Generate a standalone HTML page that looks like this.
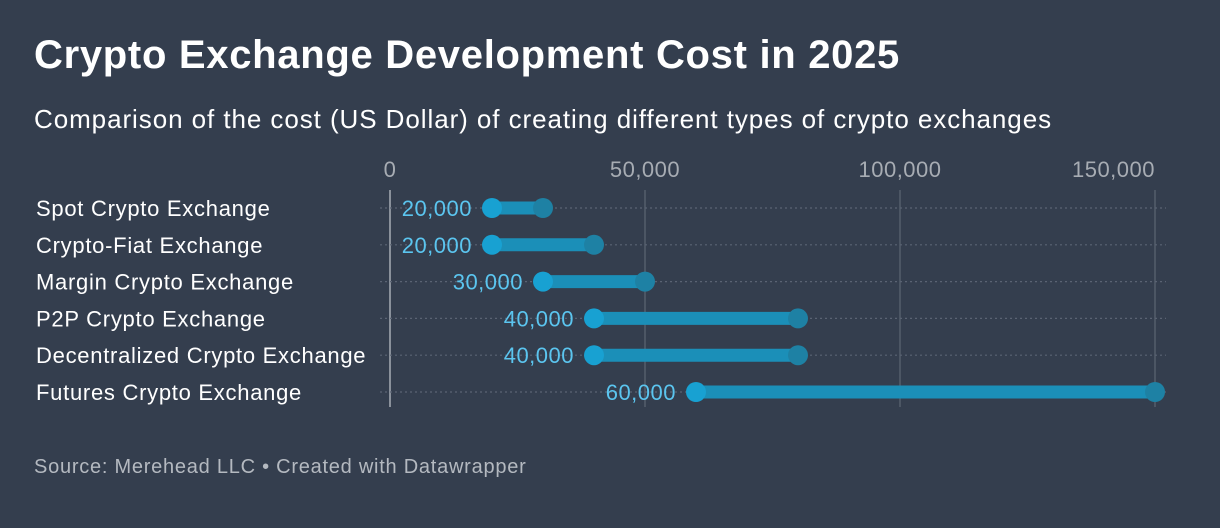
<!DOCTYPE html>
<html><head><meta charset="utf-8"><style>
body{margin:0;width:1220px;height:528px;background:#343e4e;font-family:"Liberation Sans",sans-serif;overflow:hidden}
#t{position:absolute;left:34px;top:33px;color:#fff;font-size:40px;font-weight:bold;letter-spacing:0.7px}
#s{position:absolute;left:34px;top:104px;color:#fff;font-size:26px;letter-spacing:0.93px}
#f{position:absolute;left:34px;top:456px;color:#b4b9c0;font-size:20px;letter-spacing:0.75px}
</style></head><body>
<div id="t">Crypto Exchange Development Cost in 2025</div>
<div id="s">Comparison of the cost (US Dollar) of creating different types of crypto exchanges</div>
<svg id="c" width="1220" height="528" style="position:absolute;left:0;top:0"></svg>
<div id="f">Source: Merehead LLC • Created with Datawrapper</div>
<script>
const categories=["Spot Crypto Exchange","Crypto-Fiat Exchange","Margin Crypto Exchange","P2P Crypto Exchange","Decentralized Crypto Exchange","Futures Crypto Exchange"];
const minCost=[20000,20000,30000,40000,40000,60000];
const maxCost=[30000,40000,50000,80000,80000,150000];
const ticks=[0,50000,100000,150000];
const tickLabels=["0","50,000","100,000","150,000"];
const svg=document.getElementById('c');const NS="http://www.w3.org/2000/svg";
const x=v=>390+v*(765/150000);
const y=i=>208+i*36.8;
function mk(tag,a,p){const e=document.createElementNS(NS,tag);for(const k in a)e.setAttribute(k,a[k]);(p||svg).appendChild(e);return e;}
ticks.forEach((t,i)=>{
 const l=mk('line',{x1:x(t),x2:x(t),y1:190,y2:407,stroke:i==0?'#8a919b':'#555e6c','stroke-width':i==0?2:1.5});
 
 
 const last=i==ticks.length-1;
 const tx=mk('text',{x:x(t),y:177,fill:'#a7acb3','font-size':22,'letter-spacing':0.5,'text-anchor':last?'end':'middle','font-family':'Liberation Sans'});
 tx.textContent=tickLabels[i];
 
 
});
categories.forEach((c,i)=>{
 const yy=y(i);
 const g=mk('line',{x1:380,x2:1166,y1:yy,y2:yy,stroke:'#5a6373','stroke-width':1.2,'stroke-dasharray':'2 3'});
 
 
 const lab=mk('text',{x:36,y:yy+8,fill:'#fff','font-size':22,'letter-spacing':0.72,'font-family':'Liberation Sans'});
 lab.textContent=c;
 
 
 const bar=mk('line',{x1:x(minCost[i]),x2:x(maxCost[i]),y1:yy,y2:yy,stroke:'#1b8fb8','stroke-width':13});
 
 
 const d2=mk('circle',{cx:x(maxCost[i]),cy:yy,r:10,fill:'#1e81a4'});
 
 
 const d1=mk('circle',{cx:x(minCost[i]),cy:yy,r:10,fill:'#18a1d2'});
 
 
 const v=mk('text',{x:x(minCost[i])-20,y:yy+8,fill:'#5bc5ef','font-size':22,'letter-spacing':0.5,'text-anchor':'end','font-family':'Liberation Sans'});
 v.textContent=minCost[i].toLocaleString('en-US');
 
 
});
</script>
</body></html>
